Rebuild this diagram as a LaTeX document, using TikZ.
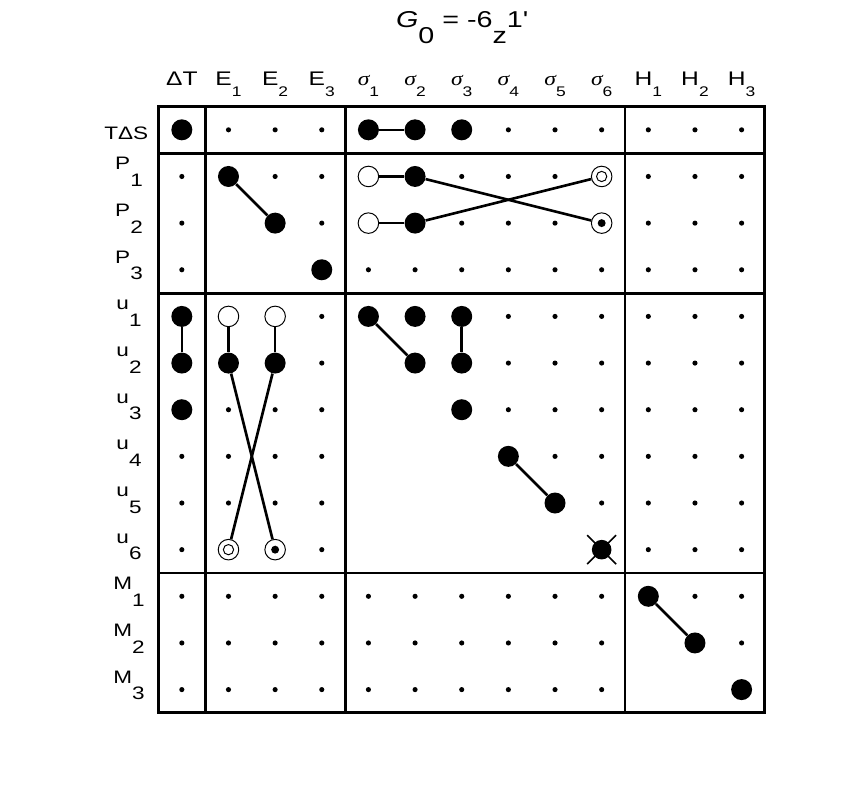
\documentclass[tikz,border=0pt]{standalone}
\usepackage{fontspec}
\setmainfont{Liberation Sans}[FakeStretch=1.25]
\newfontfamily\serifgr{Liberation Serif}[FakeStretch=1.2]
\newcommand\sbc[1]{\raisebox{-6.5pt}{\fontsize{8.5}{8.5}\selectfont #1}}
\newcommand\sbr[1]{\raisebox{-10.2pt}{#1}}
\newcommand\sbt[1]{\raisebox{-9.8pt}{#1}}
\newcommand\sig{{\serifgr\itshape σ}}
\tikzset{
  frameline/.style={line width=1.8pt},
  link/.style={line width=1.6pt},
  xline/.style={line width=1pt},
  mkS/.style={circle, fill=black, inner sep=0pt, minimum size=0.11cm},
  mkB/.style={circle, fill=black, inner sep=0pt, minimum size=0.45cm},
  mkO/.style={circle, draw=black, fill=white, line width=0.6pt, inner sep=0pt, minimum size=0.44cm},
  mkR/.style={mkO, path picture={\draw[black, line width=0.6pt] (path picture bounding box.center) circle (0.11cm);}},
  mkC/.style={mkO, path picture={\fill[black] (path picture bounding box.center) circle (0.085cm);}},
  mkX/.style={mkB, minimum size=0.42cm},
  collab/.style={anchor=base, font=\fontsize{12}{12}\selectfont, inner sep=0pt},
  rowlab/.style={anchor=base, font=\fontsize{11}{11}\selectfont, inner sep=0pt},
  titlelab/.style={anchor=base, font=\fontsize{14}{14}\selectfont, inner sep=0pt}
}
\begin{document}
\begin{tikzpicture}[x=1cm,y=1cm]
\useasboundingbox (-3.398,-15.122) rectangle (14.952,2.283);
% frame
\draw[frameline] (0,0) rectangle (13,-13);
\draw[frameline] (1,0) -- (1,-13) (4,0) -- (4,-13) (10,0) -- (10,-13);
\draw[frameline] (0,-1) -- (13,-1) (0,-4) -- (13,-4) (0,-10) -- (13,-10);
% title
\node[titlelab] (title) at (6.5,1.704) {\textit{G}\sbt{0} = -6\sbt{z}1\textquotesingle};
% column labels
\foreach \t [count=\c] in {ΔT, E\sbc{1}, E\sbc{2}, E\sbc{3}, \sig\sbc{1}, \sig\sbc{2}, \sig\sbc{3}, \sig\sbc{4}, \sig\sbc{5}, \sig\sbc{6}, H\sbc{1}, H\sbc{2}, H\sbc{3}}
  \node[collab] (c\c) at (\c-0.5,0.44) {\t};
% row labels
\node[rowlab] (r1) at (-0.69,-0.71) {TΔS};
\foreach \t [count=\r from 2] in {P\sbr{1}, P\sbr{2}, P\sbr{3}, u\sbr{1}, u\sbr{2}, u\sbr{3}, u\sbr{4}, u\sbr{5}, u\sbr{6}, M\sbr{1}, M\sbr{2}, M\sbr{3}}
  \node[rowlab] (r\r) at (-0.632,{0.64-\r}) {\t};
% markers
\foreach \rowcodes [count=\r] in {
  {B,S,S,S,B,B,B,S,S,S,S,S,S},
  {S,B,S,S,O,B,S,S,S,R,S,S,S},
  {S,N,B,S,O,B,S,S,S,C,S,S,S},
  {S,N,N,B,S,S,S,S,S,S,S,S,S},
  {B,O,O,S,B,B,B,S,S,S,S,S,S},
  {B,B,B,S,N,B,B,S,S,S,S,S,S},
  {B,S,S,S,N,N,B,S,S,S,S,S,S},
  {S,S,S,S,N,N,N,B,S,S,S,S,S},
  {S,S,S,S,N,N,N,N,B,S,S,S,S},
  {S,R,C,S,N,N,N,N,N,X,S,S,S},
  {S,S,S,S,S,S,S,S,S,S,B,S,S},
  {S,S,S,S,S,S,S,S,S,S,N,B,S},
  {S,S,S,S,S,S,S,S,S,S,N,N,B}}{
  \foreach \k [count=\c] in \rowcodes {
    \if N\k\else
      \node[mk\k] (n-\r-\c) at (\c-0.5,{0.5-\r}) {};
    \fi
  }
}
% cross on u6/sigma6
\draw[xline] ([shift={(-0.31,0.31)}]n-10-10.center) -- ([shift={(0.31,-0.31)}]n-10-10.center);
\draw[xline] ([shift={(-0.31,-0.31)}]n-10-10.center) -- ([shift={(0.31,0.31)}]n-10-10.center);
% links
\draw[link] (n-1-5) -- (n-1-6);
\draw[link] (n-2-2) -- (n-3-3);
\draw[link] (n-2-5) -- (n-2-6);
\draw[link] (n-3-5) -- (n-3-6);
\draw[link] (n-2-6) -- (n-3-10);
\draw[link] (n-3-6) -- (n-2-10);
\draw[link] (n-5-1) -- (n-6-1);
\draw[link] (n-5-2) -- (n-6-2);
\draw[link] (n-5-3) -- (n-6-3);
\draw[link] (n-6-2) -- (n-10-3);
\draw[link] (n-6-3) -- (n-10-2);
\draw[link] (n-5-5) -- (n-6-6);
\draw[link] (n-5-7) -- (n-6-7);
\draw[link] (n-8-8) -- (n-9-9);
\draw[link] (n-11-11) -- (n-12-12);
\end{tikzpicture}
\end{document}
